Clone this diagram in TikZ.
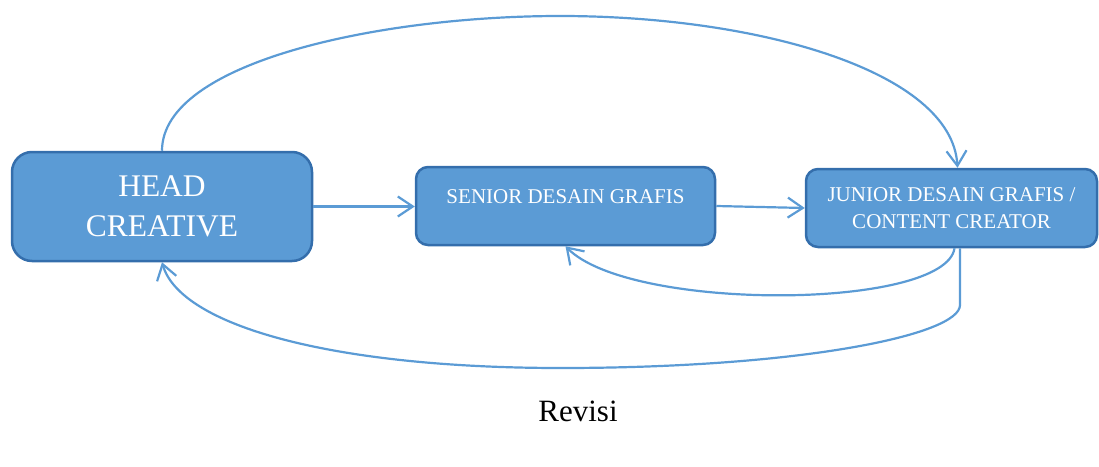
\documentclass[tikz,border=0pt]{standalone}
\usepackage{fontspec}
\setmainfont{Liberation Serif}
\usetikzlibrary{arrows.meta,calc}
\definecolor{boxfill}{RGB}{91,155,213}
\definecolor{boxline}{RGB}{52,110,172}
\definecolor{arrowcol}{RGB}{91,155,213}
\tikzset{
  box/.style={draw=boxline, fill=boxfill, line width=2.5pt, text=white, align=center, inner sep=0pt},
  conn/.style={draw=arrowcol, line width=2.2pt, -{Straight Barb[length=15pt,width=20pt,line width=2.2pt]}},
  bigtext/.style={font=\fontsize{31.5}{40}\selectfont},
  smalltext/.style={font=\fontsize{21}{27}\selectfont},
}
\begin{document}
\begin{tikzpicture}[x=1pt,y=-1pt]
\useasboundingbox (0,0) rectangle (1099,466);
\node[box, bigtext, minimum width=300pt, minimum height=109pt, rounded corners=20pt] (head) at (162,206.5) {HEAD\\CREATIVE};
\node[box, minimum width=299pt, minimum height=78pt, rounded corners=12pt] (senior) at (565.5,206) {};
\node[smalltext, text=white, anchor=base] (seniortext) at (565.5,203) {SENIOR DESAIN GRAFIS};
\node[box, smalltext, minimum width=291pt, minimum height=78pt, rounded corners=12pt] (junior) at (951.5,208) {JUNIOR DESAIN GRAFIS /\\CONTENT CREATOR};
\node[font=\fontsize{31}{36}\selectfont, anchor=base] (revisi) at (578,421) {Revisi};
\coordinate (jtop) at ($(junior.north)+(6,0)$);
\coordinate (jb1) at ($(junior.south)+(3,0)$);
\coordinate (jb2) at ($(junior.south)+(8.5,0)$);
% forward arrows
\draw[conn] (head.east) -- (senior.west |- head.east);
\draw[conn] (senior.east) -- (junior.west);
% top arc
\draw[conn] (head.north) .. controls (162,62) and (380,16) .. (560,16)
  .. controls (760,16) and (952,72) .. (jtop);
% junior -> senior
\draw[conn] (jb1) .. controls (945,310) and (630,312) .. (senior.south);
% junior -> head
\draw[conn] (jb2) -- (960,305) .. controls (960,335) and (800,368) .. (561,368)
  .. controls (330,368) and (180,325) .. (head.south);
\end{tikzpicture}
\end{document}
